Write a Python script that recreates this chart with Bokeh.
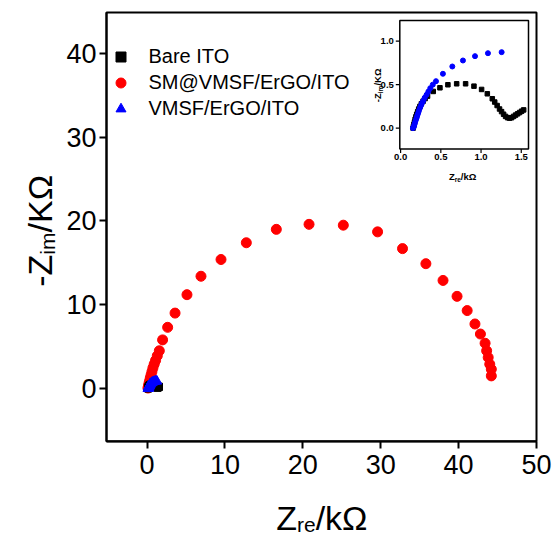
import numpy as np
from bokeh.plotting import figure
from bokeh.models import Range1d, FixedTicker, Legend, LegendItem, Label, LinearAxis
from bokeh.core.properties import value
from bokeh.embed import file_html
from bokeh.resources import INLINE

# ---------------- data (kOhm) ----------------
bare_x = [0.155, 0.16, 0.166, 0.173, 0.18, 0.19, 0.2, 0.212, 0.225, 0.24,
          0.258, 0.28, 0.305, 0.335, 0.406, 0.489, 0.588, 0.697, 0.808, 0.912,
          1.007, 1.078, 1.14, 1.17, 1.20, 1.23, 1.255, 1.28, 1.305, 1.33,
          1.355, 1.38, 1.405, 1.43, 1.455, 1.48, 1.505, 1.53]
bare_y = [0.0, 0.02, 0.045, 0.07, 0.1, 0.13, 0.16, 0.19, 0.22, 0.25,
          0.28, 0.31, 0.34, 0.368, 0.422, 0.464, 0.499, 0.51, 0.51, 0.483,
          0.445, 0.395, 0.338, 0.30, 0.26, 0.22, 0.19, 0.16, 0.135, 0.12,
          0.115, 0.12, 0.135, 0.15, 0.165, 0.18, 0.195, 0.21]

sm_x = [0.12, 0.18, 0.25, 0.33, 0.42, 0.52, 0.63, 0.76, 0.92, 1.1,
        1.32, 1.58, 2.0, 2.65, 3.6, 5.13, 6.93, 9.5, 12.75, 16.6,
        20.8, 25.2, 29.6, 32.8, 35.8, 38.0, 39.8, 41.1, 42.1, 42.8,
        43.4, 43.6, 43.8, 44.0, 44.2, 44.2]
sm_y = [0.05, 0.3, 0.6, 0.9, 1.25, 1.6, 2.0, 2.45, 2.9, 3.35,
        3.9, 4.5, 5.8, 7.3, 9.0, 11.2, 13.4, 15.4, 17.4, 19.0,
        19.6, 19.5, 18.7, 16.7, 14.9, 12.9, 11.0, 9.3, 7.7, 6.5,
        5.4, 4.5, 3.7, 2.9, 2.3, 1.5]

vmsf_x = [0.153, 0.16, 0.166, 0.172, 0.178, 0.186, 0.195, 0.203, 0.211, 0.22,
          0.228, 0.24, 0.253, 0.267, 0.282, 0.3, 0.323, 0.345, 0.369, 0.40,
          0.44, 0.526, 0.643, 0.775, 0.925, 1.086, 1.256]
vmsf_y = [0.0, 0.01, 0.023, 0.042, 0.062, 0.085, 0.108, 0.13, 0.154, 0.178,
          0.203, 0.232, 0.261, 0.29, 0.315, 0.35, 0.384, 0.42, 0.46, 0.50,
          0.54, 0.625, 0.709, 0.778, 0.828, 0.862, 0.874]

series_names = ["Bare ITO", "SM@VMSF/ErGO/ITO", "VMSF/ErGO/ITO"]
x_ticks = [0, 10, 20, 30, 40, 50]
y_ticks = [0, 10, 20, 30, 40]
inset_x_ticks = [0.0, 0.5, 1.0, 1.5]
inset_x_labels = ["0.0", "0.5", "1.0", "1.5"]
inset_y_ticks = [0.0, 0.5, 1.0]
inset_y_labels = ["0.0", "0.5", "1.0"]

FONT = "Liberation Sans"

# plot-area limits (data) and the canvas-wide ranges that place them on the page
X_LO, X_HI = -5.2, 50.0
Y_LO, Y_HI = -6.3, 44.9
W, H = 555, 536
AREA_L, AREA_R, AREA_T, AREA_B = 106, 536, 12, 440.7
sx = (X_HI - X_LO) / (AREA_R - AREA_L)
sy = (Y_HI - Y_LO) / (AREA_B - AREA_T)
x_range = Range1d(X_LO - AREA_L * sx, X_HI + (W - AREA_R) * sx)
y_range = Range1d(Y_LO - (H - AREA_B) * sy, Y_HI + AREA_T * sy)

p = figure(width=W, height=H, x_range=x_range, y_range=y_range,
           output_backend="svg", toolbar_location=None,
           x_axis_location=None, y_axis_location=None, min_border=0)
p.title.visible = False
p.grid.visible = False
p.outline_line_color = None
p.background_fill_color = "white"
p.border_fill_color = "white"

# plot-area frame
p.quad(left=[X_LO], right=[X_HI], bottom=[Y_LO], top=[Y_HI], fill_color=None,
       line_color="black", line_width=2)

xaxis = LinearAxis(fixed_location=Y_LO, bounds=(X_LO, X_HI), ticker=FixedTicker(ticks=x_ticks))
yaxis = LinearAxis(fixed_location=X_LO, bounds=(Y_LO, Y_HI), ticker=FixedTicker(ticks=y_ticks))
for ax in (xaxis, yaxis):
    ax.axis_line_width = 2
    ax.axis_line_color = "black"
    ax.major_tick_line_width = 2
    ax.major_tick_line_color = "black"
    ax.major_tick_out = 7
    ax.major_tick_in = 0
    ax.minor_tick_line_color = None
    ax.major_label_text_font = FONT
    ax.major_label_text_font_size = "27px"
    ax.major_label_text_color = "black"
xaxis.major_label_standoff = 7
yaxis.major_label_standoff = 3
p.add_layout(xaxis, "below")
p.add_layout(yaxis, "left")

r_sm = p.scatter(sm_x, sm_y, marker="circle", size=10, fill_color="red", line_color="red")
r_bare = p.scatter(bare_x, bare_y, marker="square", size=7, fill_color="black", line_color="black")
r_v = p.scatter(vmsf_x, vmsf_y, marker="triangle", size=10, fill_color="blue", line_color="blue")

legend = Legend(items=[LegendItem(label=series_names[0], renderers=[r_bare]),
                       LegendItem(label=series_names[1], renderers=[r_sm]),
                       LegendItem(label=series_names[2], renderers=[r_v])],
                location=(107.5, 414.8), glyph_width=25, glyph_height=25, label_height=25,
                label_standoff=16, spacing=1, padding=0, margin=0,
                border_line_color=None, background_fill_alpha=0,
                label_text_font=FONT, label_text_font_size="20px", label_text_color="black")
p.add_layout(legend)

# ---------------- composite axis labels ----------------
W_REG = {"Z": .611, "r": .333, "e": .556, "/": .278, "k": .5, "K": .667, "Ω": .768,
         "-": .333, "i": .222, "m": .833}
W_BOLD = {"Z": .611, "r": .389, "e": .556, "/": .278, "k": .556, "K": .722, "Ω": .768,
          "-": .333, "i": .278, "m": .889}


def tw(s, size, bold=False):
    w = W_BOLD if bold else W_REG
    return sum(w[c] for c in s) * size


def comp_label(pieces, x0, y0, angle=0.0, bold=False):
    # pieces: (text, size, baseline shift down); x0, y0 in page px (y down)
    total = sum(tw(t, s, bold) for t, s, _ in pieces)
    pos = 0.0
    for t, s, d in pieces:
        if angle == 0:
            x, y = x0 - total / 2 + pos, H - (y0 + d)
        else:
            x, y = x0 + d, H - (y0 + total / 2 - pos)
        p.add_layout(Label(x=x, y=y, x_units="screen", y_units="screen", text=t, angle=angle,
                           text_font=FONT, text_font_size=f"{s}px",
                           text_font_style="bold" if bold else "normal",
                           text_align="left", text_baseline="alphabetic", text_color="black"))
        pos += tw(t, s, bold)


comp_label([("Z", 34, 0), ("re", 21, 7), ("/kΩ", 34, 0)], 321.7, 517)
comp_label([("-Z", 34, 0), ("im", 21, 7), ("/KΩ", 34, 0)], 39.5, 230, angle=np.pi / 2)

# ---------------- inset (sub-coordinates) ----------------
ix = Range1d(-0.01, 1.59)
iy = Range1d(-0.24, 1.238)
sub = p.subplot(x_source=ix, y_source=iy,
                x_target=Range1d(X_LO + (399.3 - AREA_L) * sx, X_LO + (528 - AREA_L) * sx),
                y_target=Range1d(Y_LO + (AREA_B - 148.5) * sy, Y_LO + (AREA_B - 20) * sy))
sub.quad(left=[ix.start], right=[ix.end], bottom=[iy.start], top=[iy.end],
         fill_color="white", line_color="black", line_width=1.5)
sub.ray(x=inset_x_ticks, y=[iy.start] * len(inset_x_ticks), length=4, length_units="screen",
        angle=-np.pi / 2, line_color="black", line_width=1.2)
sub.ray(x=[ix.start] * len(inset_y_ticks), y=inset_y_ticks, length=4, length_units="screen",
        angle=np.pi, line_color="black", line_width=1.2)
sub.text(x=inset_x_ticks, y=[iy.start] * len(inset_x_ticks), text=inset_x_labels,
         y_offset=5, text_align="center", text_baseline="top",
         text_font=value(FONT), text_font_style="bold", text_font_size="9.5px", text_color="black")
sub.text(x=[ix.start] * len(inset_y_ticks), y=inset_y_ticks, text=inset_y_labels,
         x_offset=-6, text_align="right", text_baseline="middle",
         text_font=value(FONT), text_font_style="bold", text_font_size="9.5px", text_color="black")
sub.scatter(bare_x, bare_y, marker="square", size=4.5, fill_color="black", line_color="black")
sub.scatter(vmsf_x, vmsf_y, marker="circle", size=5, fill_color="blue", line_color="blue")

comp_label([("Z", 9.5, 0), ("re", 6.5, 2.5), ("/kΩ", 9.5, 0)], 462, 176, bold=True)
comp_label([("-Z", 9.5, 0), ("im", 6.5, 2.5), ("/KΩ", 9.5, 0)], 377, 85, angle=np.pi / 2, bold=True)

open("out.html", "w").write(file_html(p, INLINE))
